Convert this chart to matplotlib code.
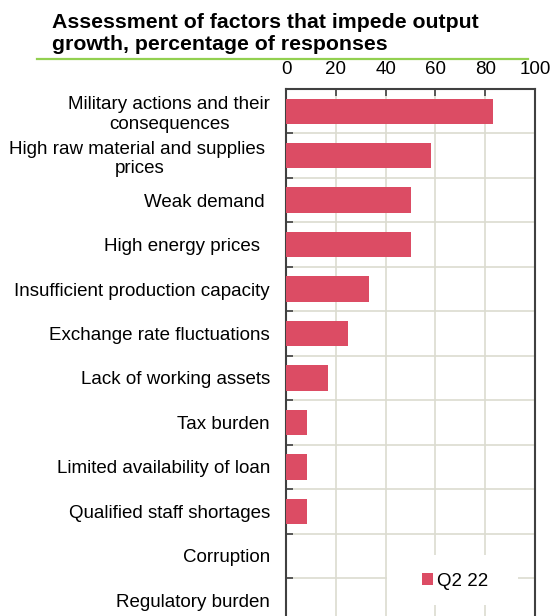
import matplotlib
matplotlib.use("Agg")
import matplotlib.pyplot as plt
import numpy as np
from matplotlib.lines import Line2D
from matplotlib.patches import Rectangle

plt.rcParams['font.family'] = ['Liberation Sans', 'DejaVu Sans']

categories = [
    "Military actions and their\nconsequences",
    "High raw material and supplies \nprices",
    "Weak demand ",
    "High energy prices  ",
    "Insufficient production capacity",
    "Exchange rate fluctuations",
    "Lack of working assets",
    "Tax burden",
    "Limited availability of loan",
    "Qualified staff shortages",
    "Corruption",
    "Regulatory burden",
]
values_q2_22 = [83.3, 58.3, 50.0, 50.0, 33.3, 25.0, 16.7, 8.3, 8.3, 8.3, 0.0, 0.0]
series_name = "Q2 22"
x_ticks = [0, 20, 40, 60, 80, 100]
title = "Assessment of factors that impede output\ngrowth, percentage of responses"

bar_color = "#dc4c64"
grid_color = "#dcdcd0"
spine_color = "#404040"

W, H = 552, 616
fig = plt.figure(figsize=(W / 100, H / 100), dpi=100)
ax = fig.add_axes([286 / W, -6.5 / H, 249 / W, 533.5 / H])

y = np.arange(len(categories))
ax.barh(y, values_q2_22, height=0.57, color=bar_color, linewidth=0,
        zorder=3, label=series_name)

ax.set_xlim(0, 100)
ax.set_ylim(len(categories) - 0.5, -0.5)

ax.xaxis.tick_top()
ax.set_xticks(x_ticks)
ax.set_xticklabels([str(t) for t in x_ticks])
ax.tick_params(axis='x', direction='in', length=5, width=1.2, color=spine_color,
               labelsize=13.5, pad=8, top=True, bottom=False)

ax.set_yticks(y)
ax.set_yticklabels(categories, multialignment='center')
ax.set_yticks(np.arange(len(categories) + 1) - 0.5, minor=True)
ax.tick_params(axis='y', which='major', length=0, labelsize=13.5, pad=11.5)
ax.tick_params(axis='y', which='minor', direction='in', length=5, width=1.2,
               color=spine_color)

ax.grid(axis='x', which='major', color=grid_color, linewidth=1.2, zorder=0)
ax.grid(axis='y', which='minor', color=grid_color, linewidth=1.2, zorder=0)
ax.set_axisbelow(True)

for side in ['left', 'right', 'top']:
    ax.spines[side].set_color(spine_color)
    ax.spines[side].set_linewidth(1.5)
ax.spines['bottom'].set_visible(False)

# white legend area masking the gridlines
ax.add_patch(Rectangle((387 / W, 1 - 605 / H), 131 / W, 50 / H,
                       transform=fig.transFigure, facecolor='white',
                       edgecolor='none', zorder=4, clip_on=False))

leg = ax.legend(loc='center', bbox_to_anchor=(455 / W, 1 - 581 / H),
                bbox_transform=fig.transFigure, frameon=False,
                handlelength=0.6, handleheight=0.6, handletextpad=0.2,
                borderpad=0.2, fontsize=13.5)
leg.set_zorder(6)

fig.text(52 / W, 1 - 13.5 / H, title, ha='left', va='top',
         fontsize=15.3, fontweight='bold', linespacing=1.2)
fig.add_artist(Line2D([37 / W, 528 / W], [1 - 59 / H, 1 - 59 / H],
                      color="#92d050", linewidth=1.6, transform=fig.transFigure))

fig.savefig("out.png", dpi=100)
